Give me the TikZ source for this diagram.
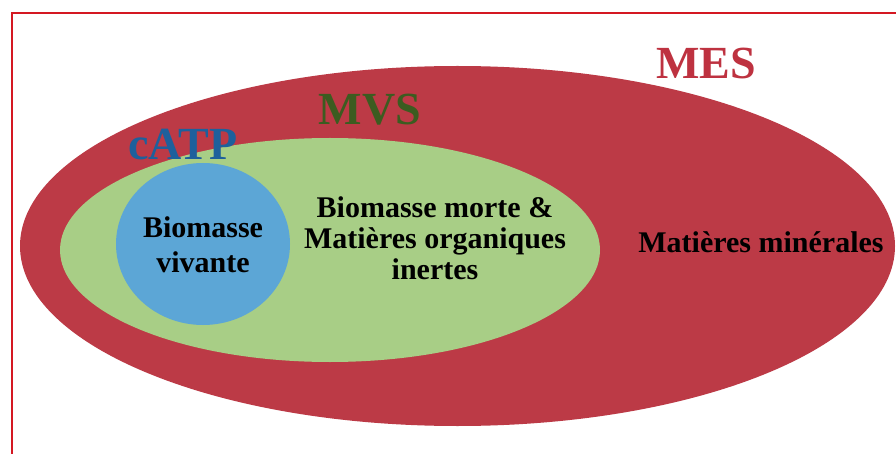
\documentclass[tikz,border=0pt]{standalone}
\usepackage{fontspec}
\setmainfont{Liberation Serif}
\usetikzlibrary{shapes.geometric}
\definecolor{framered}{RGB}{212,24,34}
\definecolor{mesred}{RGB}{188,58,70}
\definecolor{mvsgreen}{RGB}{168,206,134}
\definecolor{catpblue}{RGB}{92,166,214}
\definecolor{mestext}{RGB}{190,50,64}
\definecolor{mvstext}{RGB}{60,92,32}
\definecolor{catptext}{RGB}{30,96,156}
\begin{document}
\begin{tikzpicture}[x=1pt,y=-1pt,
  region/.style={ellipse,inner sep=0pt,outer sep=0pt,draw=none},
  title/.style={font=\fontsize{46}{50}\selectfont\bfseries,inner sep=0pt,anchor=base},
  body/.style={font=\fontsize{30}{#1}\selectfont\bfseries,align=center,inner sep=0pt,text=black},
  body/.default=31]
\useasboundingbox (0,0) rectangle (896,454);
\clip (0,0) rectangle (896,454);
\fill[white] (0,0) rectangle (896,454);
\draw[framered,line width=2.5pt] (12.2,480) -- (12.2,13) -- (920,13);
\node[region,fill=mesred,minimum width=875pt,minimum height=360pt] (mes) at (457.5,246) {};
\node[region,fill=mvsgreen,minimum width=540pt,minimum height=224pt] (mvs) at (330,250) {};
\node[region,fill=catpblue,minimum width=174pt,minimum height=162pt] (catp) at (203,244) {};
\node[title,text=mestext] (mesl) at (706,79) {MES};
\node[title,text=mvstext] (mvsl) at (370,125) {MVS};
\node[title,text=catptext] (catpl) at (183,160) {cATP};
\node[body=35] (viv) at (203,245) {Biomasse\\vivante};
\node[body=31] (morte) at (435,238) {Biomasse morte \&\\Matières organiques\\inertes};
\node[body,anchor=base] (min) at (761,252) {Matières minérales};
\end{tikzpicture}
\end{document}
